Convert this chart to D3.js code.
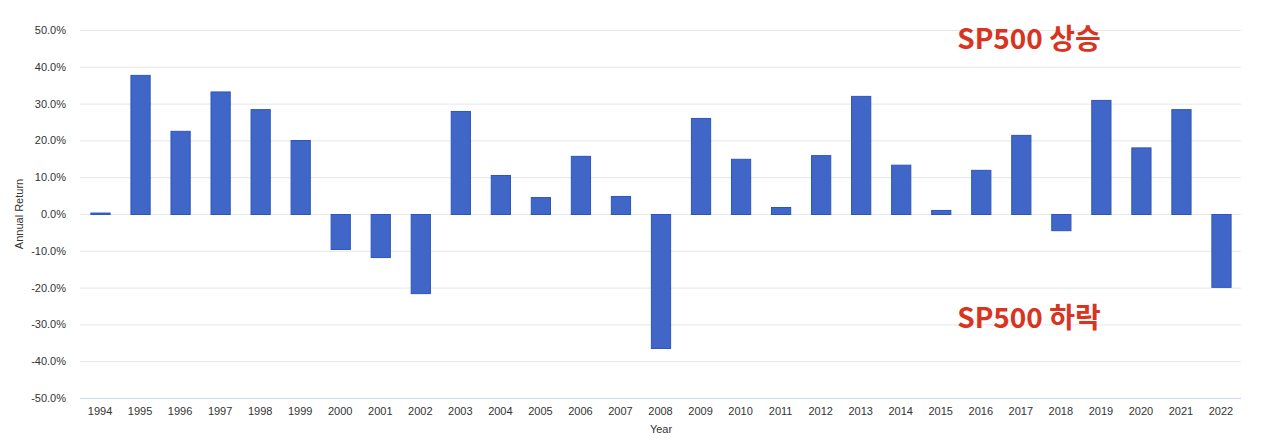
<!DOCTYPE html>
<html><head><meta charset="utf-8">
<script src="https://cdn.jsdelivr.net/npm/d3@7"></script>
<style>
body{margin:0;background:#fff;}
svg{display:block;font-family:"Liberation Sans",Arial,Helvetica,sans-serif;}
</style></head>
<body><svg id="c" width="1280" height="443"></svg>
<script>
const years = ["1994","1995","1996","1997","1998","1999","2000","2001","2002","2003","2004","2005","2006","2007","2008","2009","2010","2011","2012","2013","2014","2015","2016","2017","2018","2019","2020","2021","2022"];
const returns = [0.4,37.8,22.6,33.3,28.5,20.1,-9.5,-11.7,-21.5,28.0,10.6,4.6,15.8,4.9,-36.4,26.1,15.0,1.9,16.0,32.1,13.4,1.1,12.0,21.5,-4.4,31.0,18.1,28.5,-19.8];
const yTicks = [-50,-40,-30,-20,-10,0,10,20,30,40,50];
const annotations = [{text:"SP500 상승", value:47.5}, {text:"SP500 하락", value:-28.3}];

const svg = d3.select("#c");
const L=80, R=1241, T=30, B=398;
const x = d3.scaleBand().domain(years).range([L,R]).paddingInner(0.52).paddingOuter(0.26);
const y = d3.scaleLinear().domain([-50,50]).range([B,T]);

// grid
svg.append("g").selectAll("line").data(yTicks.filter(d=>d!==-50)).join("line")
  .attr("x1",L).attr("x2",R).attr("y1",d=>y(d)+0.5).attr("y2",d=>y(d)+0.5)
  .attr("stroke","#e6e6e6").attr("stroke-width",1);

// y axis labels
const yAxis = d3.axisLeft(y).tickValues(yTicks).tickSize(0).tickPadding(0)
  .tickFormat(d=>d.toFixed(1)+"%");
const ya = svg.append("g").attr("transform",`translate(66,0)`).call(yAxis);
ya.select(".domain").remove();
ya.selectAll("text").attr("font-size",11).attr("fill","#333").attr("font-family","Liberation Sans, Arial, sans-serif");

// bars
svg.append("g").selectAll("rect").data(years.map((yr,i)=>({yr,v:returns[i]}))).join("rect")
  .attr("x",d=>x(d.yr)+0.5).attr("width",x.bandwidth())
  .attr("y",d=>Math.min(y(d.v),y(0))+0.5)
  .attr("height",d=>Math.max(1,Math.abs(y(d.v)-y(0))))
  .attr("fill","#4066c8").attr("stroke","#2c55bf").attr("stroke-width",1);

// x axis
const xAxis = d3.axisBottom(x).tickSize(0).tickPadding(9);
const xa = svg.append("g").attr("transform",`translate(0,${B})`).call(xAxis);
xa.select(".domain").attr("stroke","#ccd6eb").attr("d",`M${L},0.5H${R}`);
xa.selectAll("text").attr("font-size",11).attr("fill","#333").attr("font-family","Liberation Sans, Arial, sans-serif");

// axis titles
svg.append("text").attr("x",661).attr("y",433).attr("text-anchor","middle")
  .attr("font-size",11).attr("fill","#333").text("Year");
svg.append("text").attr("transform",`translate(23,${y(0)}) rotate(-90)`).attr("text-anchor","middle")
  .attr("font-size",11).attr("fill","#333").text("Annual Return");

// annotations
svg.append("g").selectAll("text").data(annotations).join("text")
  .attr("x",x("2016")-14).attr("y",d=>y(d.value)+10)
  .attr("font-family","'Noto Sans CJK KR','Noto Sans',sans-serif").attr("font-weight","bold")
  .attr("font-size",28).attr("fill","#d93420").text(d=>d.text);
</script></body></html>
